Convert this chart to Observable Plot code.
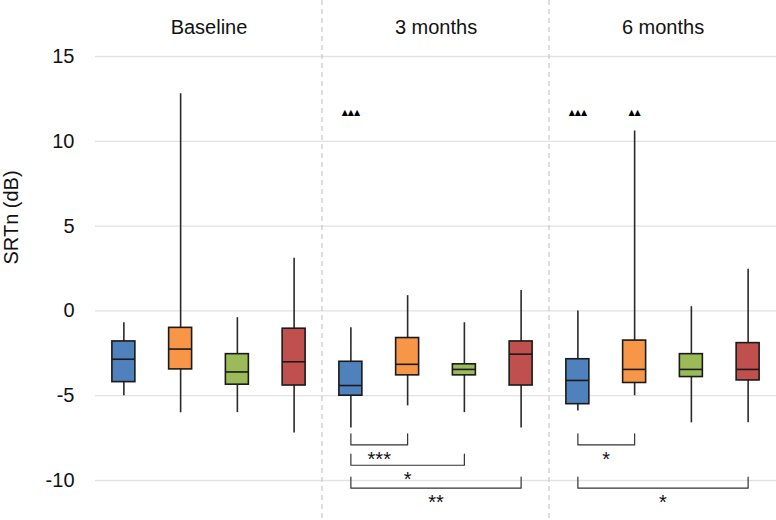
<!DOCTYPE html>
<html><head><meta charset="utf-8">
<script src="https://cdn.jsdelivr.net/npm/d3@7"></script>
<script src="https://cdn.jsdelivr.net/npm/@observablehq/plot@0.6"></script>
<style>body{margin:0;background:#fff;}</style>
</head><body><div id="chart"></div>
<script>
const timepoints = ["Baseline", "3 months", "6 months"];
const groups = ["Group 1", "Group 2", "Group 3", "Group 4"];
const colors = ["#4f81bd", "#f79646", "#9bbb59", "#c0504d"];
const yTicks = [-10, -5, 0, 5, 10, 15];

// rows: timepoints, columns: groups
const whiskerLow  = [[-5.0, -6.0, -6.0, -7.2], [-6.9, -5.6, -6.0, -6.9], [-5.9, -5.0, -6.6, -6.6]];
const q1          = [[-4.2, -3.45, -4.35, -4.4], [-5.0, -3.8, -3.8, -4.4], [-5.5, -4.25, -3.9, -4.1]];
const median      = [[-2.85, -2.25, -3.6, -3.0], [-4.4, -3.15, -3.45, -2.55], [-4.1, -3.45, -3.45, -3.45]];
const q3          = [[-1.8, -1.0, -2.55, -1.05], [-3.0, -1.6, -3.15, -1.8], [-2.85, -1.75, -2.55, -1.9]];
const whiskerHigh = [[-0.7, 12.8, -0.4, 3.1], [-1.0, 0.9, -0.7, 1.2], [0.0, 10.6, 0.25, 2.45]];

// off-scale outliers (triangles)
const outlierTime  = ["3 months", "6 months", "6 months"];
const outlierGroup = ["Group 1", "Group 1", "Group 2"];
const outlierCount = [3, 3, 2];
const outlierY     = [11.7, 11.7, 11.7];

// significance brackets
const bracketTime  = ["3 months", "3 months", "3 months", "6 months", "6 months"];
const bracketFrom  = ["Group 1", "Group 1", "Group 1", "Group 1", "Group 1"];
const bracketTo    = ["Group 2", "Group 3", "Group 4", "Group 2", "Group 4"];
const bracketLabel = ["***", "*", "**", "*", "*"];
const bracketTop   = [-7.25, -8.45, -9.8, -7.25, -9.8];
const bracketBar   = [-7.9, -9.1, -10.45, -7.9, -10.45];

const gi = g => groups.indexOf(g);
const halfBox = 0.2025; // box half-width in group units

const boxes = timepoints.flatMap((t, i) => groups.map((g, j) => ({
  time: t, group: g,
  low: whiskerLow[i][j], q1: q1[i][j], med: median[i][j], q3: q3[i][j], high: whiskerHigh[i][j]
})));
const outliers = outlierTime.map((t, i) => ({
  time: t, group: outlierGroup[i], y: outlierY[i], text: "▲".repeat(outlierCount[i])
}));
const brackets = bracketTime.map((t, i) => ({
  id: i, time: t, from: bracketFrom[i], to: bracketTo[i], label: bracketLabel[i],
  top: bracketTop[i], bar: bracketBar[i]
}));
const bracketPath = brackets.flatMap(b => [
  {id: b.id, time: b.time, g: b.from, y: b.top},
  {id: b.id, time: b.time, g: b.from, y: b.bar},
  {id: b.id, time: b.time, g: b.to, y: b.bar},
  {id: b.id, time: b.time, g: b.to, y: b.top}
]);

const chart = Plot.plot({
  width: 776, height: 520,
  marginLeft: 95, marginRight: 0, marginTop: 56, marginBottom: 40,
  style: {fontFamily: "'Liberation Sans', Arial, sans-serif", fontSize: "20px", background: "#fff", color: "#111"},
  fx: {domain: timepoints, padding: 0, axis: null},
  x: {domain: [-0.5, groups.length - 0.5], axis: null},
  y: {domain: [-10, 15], ticks: yTicks, tickFormat: d => String(d), tickSize: 0, tickPadding: 21, label: null},
  color: {domain: groups, range: colors},
  marks: [
    Plot.ruleY(yTicks, {y: d => d, stroke: "#e2e2e2", strokeWidth: 1.3}),
    Plot.text(["SRTn (dB)"], {fx: () => "Baseline", text: d => d, frameAnchor: "left", dx: -84, dy: -4, rotate: -90, fontSize: 20, fill: "#111"}),
    Plot.text(timepoints, {fx: d => d, text: d => d, frameAnchor: "top", dy: -37, fontSize: 20, fill: "#111"}),
    Plot.ruleX(boxes, {fx: "time", x: d => gi(d.group), y1: "low", y2: "high", stroke: "#2a2a2a", strokeWidth: 1.6}),
    Plot.rect(boxes, {fx: "time", x1: d => gi(d.group) - halfBox, x2: d => gi(d.group) + halfBox, y1: "q1", y2: "q3", fill: "group", stroke: "#1a1a1a", strokeWidth: 1.6}),
    Plot.ruleY(boxes, {fx: "time", x1: d => gi(d.group) - halfBox, x2: d => gi(d.group) + halfBox, y: "med", stroke: "#1a1a1a", strokeWidth: 1.6}),
    Plot.text(outliers, {fx: "time", x: d => gi(d.group), y: "y", text: "text", fontSize: 8, fontFamily: "DejaVu Sans", fill: "#000"}),
    Plot.line(bracketPath, {fx: "time", x: d => gi(d.g), y: "y", z: "id", stroke: "#333", strokeWidth: 1.2, curve: "linear"}),
    Plot.text(brackets, {fx: "time", x: d => (gi(d.from) + gi(d.to)) / 2, y: "bar", text: "label", lineAnchor: "bottom", dy: 21, fontSize: 20, fill: "#111"})
  ]
});

const svg = d3.select(chart);
const fxs = chart.scale("fx");
timepoints.slice(1).forEach(t => {
  const x = fxs.apply(t);
  svg.append("line")
    .attr("x1", x).attr("x2", x).attr("y1", 0).attr("y2", 520)
    .attr("stroke", "#cccccc").attr("stroke-width", 1.3).attr("stroke-dasharray", "5,4");
});
document.getElementById("chart").appendChild(chart);
</script>
</body></html>
